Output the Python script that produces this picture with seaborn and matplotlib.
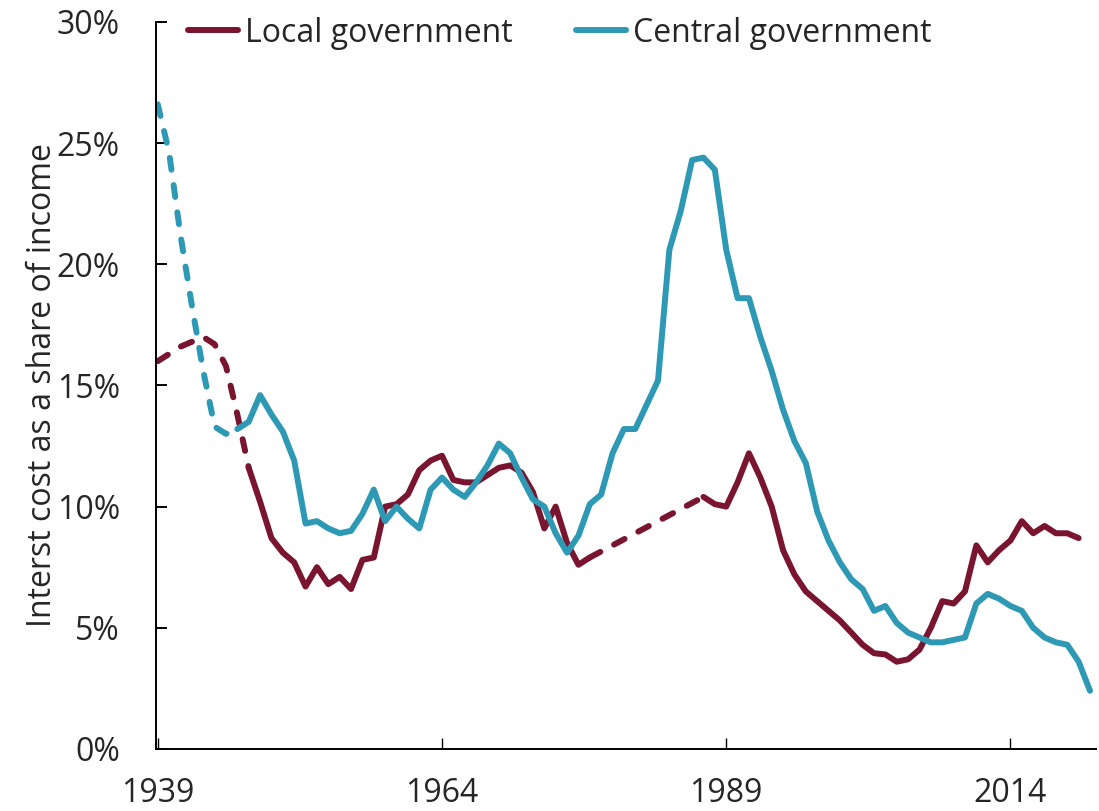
import matplotlib
matplotlib.use("Agg")
import matplotlib.pyplot as plt
from matplotlib.lines import Line2D
from matplotlib.ticker import FuncFormatter
import seaborn as sns
import numpy as np
import pandas as pd

# ---------------- data ----------------
years_central = list(range(1939, 2022))
central = [
    26.6, 24.6, 21.2, 18.3, 15.6, 13.3, 13.0, 13.2, 13.5, 14.6,   # 1939-1948
    13.8, 13.1, 11.9, 9.3, 9.4, 9.1, 8.9, 9.0, 9.7, 10.7,         # 1949-1958
    9.4, 10.0, 9.5, 9.1, 10.7, 11.2, 10.7, 10.4, 11.0, 11.7,      # 1959-1968
    12.6, 12.2, 11.2, 10.3, 10.0, 8.9, 8.1, 8.8, 10.1, 10.5,      # 1969-1978
    12.2, 13.2, 13.2, 14.2, 15.2, 20.6, 22.2, 24.3, 24.4, 23.9,   # 1979-1988
    20.6, 18.6, 18.6, 17.0, 15.6, 14.0, 12.7, 11.8, 9.8, 8.6,     # 1989-1998
    7.7, 7.0, 6.6, 5.7, 5.9, 5.2, 4.8, 4.6, 4.4, 4.4,             # 1999-2008
    4.5, 4.6, 6.0, 6.4, 6.2, 5.9, 5.7, 5.0, 4.6, 4.4,             # 2009-2018
    4.3, 3.6, 2.4,                                                # 2019-2021
]

years_local = list(range(1939, 2021))
local = [
    16.0, 16.3, 16.6, 16.8, 17.0, 16.7, 15.8, 13.8, 11.6, 10.2,   # 1939-1948
    8.7, 8.1, 7.7, 6.7, 7.5, 6.8, 7.1, 6.6, 7.8, 7.9,             # 1949-1958
    10.0, 10.1, 10.5, 11.5, 11.9, 12.1, 11.1, 11.0, 11.0, 11.3,   # 1959-1968
    11.6, 11.7, 11.4, 10.6, 9.1, 10.0, 8.5, 7.6, 7.9, None,       # 1969-1978
    None, None, None, None, None, None, None, None, 10.4, 10.1,   # 1979-1988
    10.0, 11.0, 12.2, 11.2, 10.0, 8.2, 7.2, 6.5, 6.1, 5.7,        # 1989-1998
    5.3, 4.8, 4.3, 3.95, 3.9, 3.6, 3.7, 4.1, 5.0, 6.1,            # 1999-2008
    6.0, 6.5, 8.4, 7.7, 8.2, 8.6, 9.4, 8.9, 9.2, 8.9,             # 2009-2018
    8.9, 8.7,                                                     # 2019-2020
]

series_labels = ["Local government", "Central government"]
x_ticks = [1939, 1964, 1989, 2014]
y_ticks = [0, 5, 10, 15, 20, 25, 30]
y_label = "Interst cost as a share of income"

# year ranges drawn dashed (gaps / estimated periods) and solid
local_segments = [(1939, 1947, "dash"), (1947, 1977, "solid"),
                  (1977, 1987, "dash"), (1987, 2020, "solid")]
central_segments = [(1939, 1946, "dash"), (1946, 2021, "solid")]

# ---------------- style ----------------
sns.set_style("white")
plt.rcParams["font.family"] = ["Open Sans", "DejaVu Sans"]

RED = "#7a1530"
TEAL = "#2e99b4"
LW = 4.3
FS = 23
DASH = (0, (2.0, 2.6))

fig = plt.figure(figsize=(10.99, 8.11), dpi=100)
ax = fig.add_axes([0.142, 0.0765, 0.855, 0.8965])


def segment(xs, ys, a, b):
    df = pd.DataFrame({"year": xs, "value": ys})
    df = df[(df["year"] >= a) & (df["year"] <= b)].dropna()
    return df


for xs, ys, segs, col in [(years_local, local, local_segments, RED),
                          (years_central, central, central_segments, TEAL)]:
    for a, b, kind in segs:
        d = segment(xs, ys, a, b)
        kws = dict(color=col, linewidth=LW, solid_capstyle="round",
                   dash_capstyle="round", solid_joinstyle="round")
        if kind == "dash":
            kws["linestyle"] = DASH
        sns.lineplot(data=d, x="year", y="value", ax=ax, estimator=None,
                     sort=False, legend=False, **kws)

ax.set_xlim(1938.85, 2021.5)
ax.set_ylim(0, 30)
ax.set_xticks(x_ticks)
ax.set_xticklabels([str(t) for t in x_ticks])
ax.set_yticks(y_ticks)
ax.yaxis.set_major_formatter(FuncFormatter(lambda v, p: f"{v:.0f}%"))

for s in ["top", "right"]:
    ax.spines[s].set_visible(False)
for s in ["left", "bottom"]:
    ax.spines[s].set_color("black")
    ax.spines[s].set_linewidth(1.4)

ax.tick_params(axis="y", direction="in", length=8, width=1.4, color="black",
               labelsize=FS, pad=26, left=True)
ax.tick_params(axis="x", direction="in", length=8, width=1.0, color="black",
               labelsize=FS, pad=20, bottom=True)
ax.set_xlabel("")
ax.set_ylabel(y_label, fontsize=FS)
ax.yaxis.set_label_coords(-0.103, 0.5)

handles = [Line2D([0], [0], color=RED, lw=LW, solid_capstyle="round"),
           Line2D([0], [0], color=TEAL, lw=LW, solid_capstyle="round")]
fig.legend(handles, series_labels, loc="center left",
           bbox_to_anchor=(188 / 1099, 0.9593), bbox_transform=fig.transFigure,
           ncol=2, frameon=False, fontsize=FS, handlelength=1.55,
           handletextpad=0.22, columnspacing=2.0, borderpad=0,
           borderaxespad=0)

fig.savefig("out.png", dpi=100)
